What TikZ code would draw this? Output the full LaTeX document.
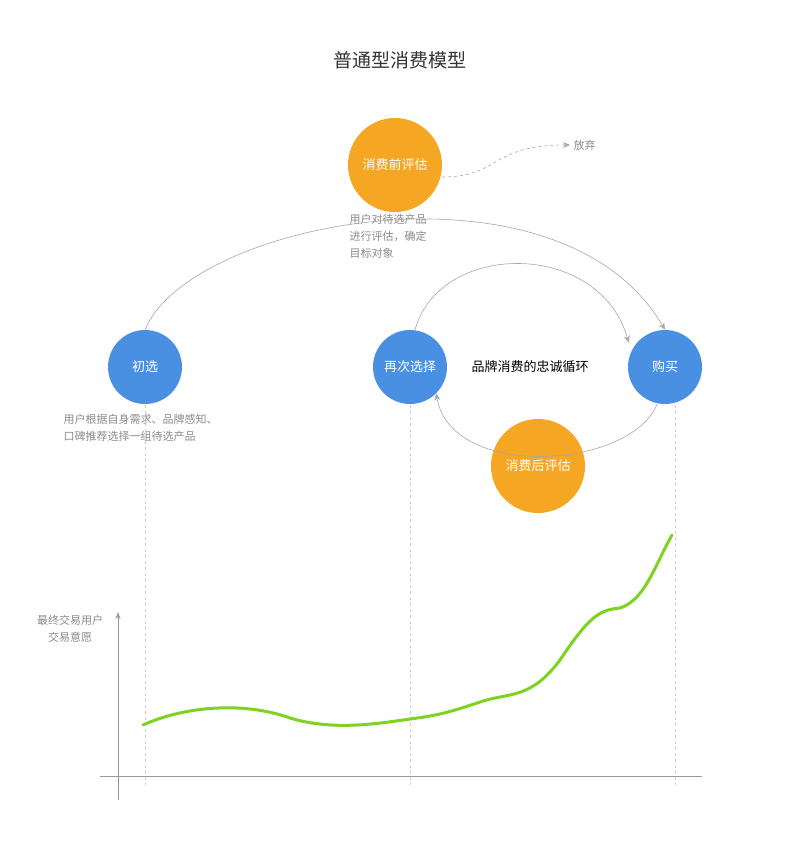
\documentclass[tikz,border=0pt]{standalone}
\usepackage{fontspec}
\setmainfont{Noto Sans CJK SC}
\usetikzlibrary{arrows.meta,calc}
\definecolor{StepBlue}{HTML}{4A90E2}
\definecolor{StepOrange}{HTML}{F5A623}
\definecolor{CurveGreen}{HTML}{7ED321}
\definecolor{NoteGray}{HTML}{8A8A8A}
\tikzset{
  stage/.style={circle,fill=StepBlue,text=white,minimum size=74pt,inner sep=0pt,font=\fontsize{13}{13}\selectfont},
  judge/.style={stage,fill=StepOrange,minimum size=94pt},
  flow/.style={draw=gray!70,line width=0.6pt,-{Stealth[length=7pt,width=6pt]}},
  note/.style={text=NoteGray,font=\fontsize{11}{17}\selectfont,align=left},
  guide/.style={draw=gray!40,dashed,line width=0.6pt}
}
\begin{document}
\begin{tikzpicture}[x=1pt,y=-1pt]
    \useasboundingbox (0,0) rectangle (800,865);
    \node[font=\fontsize{19}{19}\selectfont,text=black!80] (title) at (400,60) {普通型消费模型};
    % nodes
    \node[judge] (pre) at (395,165) {消费前评估};
    \node[stage] (first) at (145,367) {初选};
    \node[stage] (again) at (410,367) {再次选择};
    \node[stage] (buy) at (665,367) {购买};
    \node[judge] (post) at (538,466) {消费后评估};
    \node (loop) at (530,367) {\fontsize{13}{13}\selectfont 品牌消费的忠诚循环};
    \node[note,anchor=north west] (prenote) at (346,211) {用户对待选产品\\进行评估，确定\\目标对象};
    \node[note,anchor=north west] (firstnote) at (60,411) {用户根据自身需求、品牌感知、\\口碑推荐选择一组待选产品};
    \node[note,anchor=west] (quit) at (570,145) {放弃};
    % connectors
    \draw[flow] (first.north) .. controls (190,220) and (560,150) .. (buy.north);
    \draw[flow,dashed] (pre.east) ++(0,12) .. controls (500,177) and (490,145) .. (quit.west);
    \draw[flow] (again.north) ++(5,0) .. controls (440,240) and (600,240) .. ($(buy.north west)+(-10,2)$);
    \draw[flow] (buy.south) ++(-8,0) .. controls (630,470) and (450,480) .. (again.south east);
    % guides
    \foreach \x in {145,410,675} {
      \draw[guide] (\x,405) -- (\x,785);
    }
    \draw[gray!80,line width=0.8pt] (100,776) -- (702,776);
    \draw[gray!80,line width=0.8pt,-{Stealth[length=7pt,width=5pt]}] (118,800) -- (118,612);
    \node[note,align=center] (axis) at (70,629) {最终交易用户\\交易意愿};
    \draw[CurveGreen,line width=3pt,line cap=round] (143,725)
      .. controls (180,708) and (240,700) .. (290,718)
      .. controls (330,730) and (370,725) .. (410,719)
      .. controls (440,715) and (450,712) .. (480,702)
      .. controls (510,692) and (530,700) .. (560,660)
      .. controls (590,615) and (600,610) .. (620,608)
      .. controls (645,600) and (655,565) .. (672,535);
\end{tikzpicture}
\end{document}
